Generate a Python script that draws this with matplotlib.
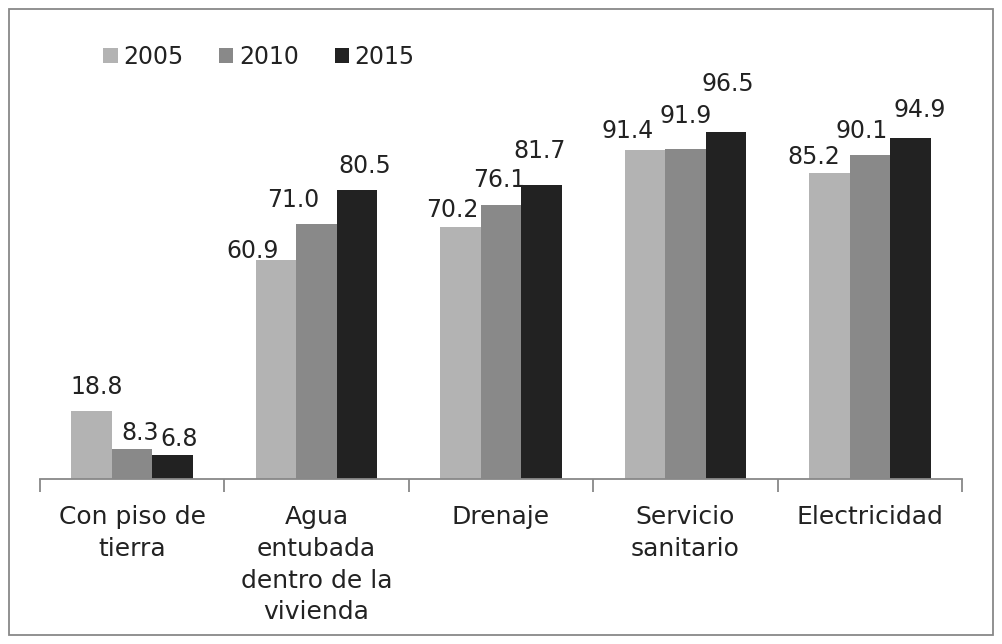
import matplotlib.pyplot as plt
import numpy as np
from matplotlib.patches import Rectangle

categorias = ["Con piso de\ntierra", "Agua\nentubada\ndentro de la\nvivienda",
              "Drenaje", "Servicio\nsanitario", "Electricidad"]
anios = ["2005", "2010", "2015"]
v2005 = [18.8, 60.9, 70.2, 91.4, 85.2]
v2010 = [8.3, 71.0, 76.1, 91.9, 90.1]
v2015 = [6.8, 80.5, 81.7, 96.5, 94.9]
colores = ["#b3b3b3", "#898989", "#222222"]

# desplazamiento de etiquetas (px) para que no se encimen, como en el original
desp_etiquetas = [
    [(5, 17), (-23, 2), (-8, 10), (-17, 12), (-15, 9)],
    [(8, 9), (-23, 17), (-2, 18), (0, 26), (-8, 17)],
    [(6, 9), (8, 17), (-2, 27), (2, 41), (9, 21)],
]

plt.rcParams['font.family'] = ['DejaVu Sans']
fig = plt.figure(figsize=(10.03, 6.44), dpi=100)
ax = fig.add_axes([40 / 1003, 165 / 644, 922 / 1003, 431.5 / 644])

x = np.arange(len(categorias))
w = 0.22
pt = 72 / 100
for i, (vals, lab, c) in enumerate(zip([v2005, v2010, v2015], anios, colores)):
    ax.bar(x + (i - 1) * w, vals, w, color=c, label=lab)
    for j, v in enumerate(vals):
        dx, dy = desp_etiquetas[i][j]
        ax.annotate("%.1f" % v, (x[j] + (i - 1) * w, v), xytext=(dx * pt, dy * pt),
                    textcoords="offset points", ha="center", va="baseline",
                    fontsize=17, color="#222222")

ax.set_xlim(-0.5, len(categorias) - 0.5)
ax.set_ylim(0, 120)
for s in ["top", "right", "left"]:
    ax.spines[s].set_visible(False)
ax.spines["bottom"].set_color("#888888")
ax.spines["bottom"].set_linewidth(1.3)
ax.set_yticks([])
ax.set_xticks(x)
ax.set_xticklabels(categorias, fontsize=18, color="#222222", linespacing=1.4)
ax.tick_params(axis="x", which="major", length=0, pad=19)
ax.set_xticks(np.arange(-0.5, len(categorias)), minor=True)
ax.tick_params(axis="x", which="minor", length=9, width=1.3, color="#888888")

fig.legend(loc="center left", bbox_to_anchor=(94 / 1003, 1 - 57 / 644), ncol=3,
           frameon=False, fontsize=17, handlelength=0.6, handleheight=0.6,
           handletextpad=0.25, columnspacing=1.5, borderaxespad=0,
           labelcolor="#222222")

fig.patches.append(Rectangle((9 / 1003, 9 / 644), 984 / 1003, 626 / 644,
                             transform=fig.transFigure, fill=False,
                             edgecolor="#888888", linewidth=1.3))

fig.savefig("out.png", dpi=100)
